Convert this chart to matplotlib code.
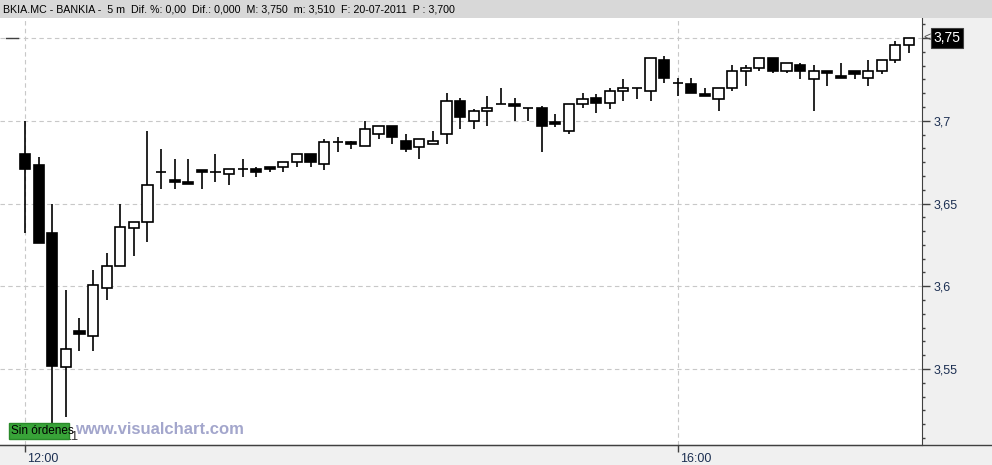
import matplotlib
matplotlib.use("Agg")
import matplotlib.pyplot as plt
import matplotlib.transforms as mtransforms
from matplotlib.patches import Rectangle
from matplotlib.lines import Line2D
from matplotlib.ticker import MultipleLocator

plt.rcParams['font.family'] = ['Liberation Sans', 'DejaVu Sans']

# ── data: BKIA.MC 5 min bars, 20-07-2011 (12:00 .. 17:25) ──
opens  = [3.680, 3.673, 3.632, 3.551, 3.573, 3.570, 3.599, 3.612, 3.635, 3.639,
          3.669, 3.664, 3.663, 3.670, 3.669, 3.668, 3.671, 3.671, 3.672, 3.672,
          3.675, 3.680, 3.674, 3.687, 3.687, 3.685, 3.692, 3.697, 3.688, 3.684,
          3.686, 3.692, 3.712, 3.700, 3.706, 3.710, 3.710, 3.708, 3.708, 3.699,
          3.694, 3.710, 3.714, 3.711, 3.718, 3.720, 3.718, 3.737, 3.723, 3.722,
          3.716, 3.713, 3.720, 3.730, 3.732, 3.738, 3.730, 3.734, 3.725, 3.730,
          3.727, 3.730, 3.726, 3.730, 3.737, 3.746]
highs  = [3.700, 3.678, 3.650, 3.598, 3.581, 3.610, 3.620, 3.650, 3.639, 3.694,
          3.683, 3.677, 3.677, 3.670, 3.680, 3.671, 3.677, 3.672, 3.672, 3.675,
          3.680, 3.680, 3.689, 3.690, 3.688, 3.700, 3.697, 3.697, 3.692, 3.689,
          3.694, 3.717, 3.714, 3.707, 3.715, 3.720, 3.714, 3.708, 3.709, 3.704,
          3.710, 3.717, 3.716, 3.720, 3.725, 3.720, 3.738, 3.739, 3.726, 3.726,
          3.720, 3.720, 3.734, 3.734, 3.738, 3.738, 3.735, 3.735, 3.734, 3.730,
          3.735, 3.730, 3.737, 3.737, 3.748, 3.750]
lows   = [3.632, 3.626, 3.510, 3.521, 3.561, 3.561, 3.592, 3.612, 3.618, 3.627,
          3.659, 3.659, 3.662, 3.659, 3.663, 3.661, 3.666, 3.666, 3.669, 3.669,
          3.672, 3.672, 3.670, 3.681, 3.683, 3.685, 3.689, 3.686, 3.681, 3.677,
          3.686, 3.686, 3.695, 3.695, 3.697, 3.710, 3.700, 3.700, 3.681, 3.696,
          3.692, 3.708, 3.705, 3.707, 3.712, 3.713, 3.712, 3.723, 3.715, 3.717,
          3.715, 3.706, 3.718, 3.721, 3.730, 3.729, 3.729, 3.725, 3.706, 3.721,
          3.726, 3.725, 3.721, 3.728, 3.735, 3.741]
closes = [3.671, 3.626, 3.552, 3.562, 3.571, 3.601, 3.612, 3.636, 3.639, 3.661,
          3.669, 3.663, 3.662, 3.669, 3.669, 3.671, 3.671, 3.669, 3.671, 3.675,
          3.680, 3.675, 3.687, 3.687, 3.686, 3.695, 3.697, 3.690, 3.683, 3.689,
          3.688, 3.712, 3.702, 3.706, 3.708, 3.710, 3.709, 3.708, 3.697, 3.698,
          3.710, 3.713, 3.711, 3.718, 3.720, 3.720, 3.738, 3.726, 3.723, 3.717,
          3.715, 3.720, 3.730, 3.732, 3.738, 3.730, 3.735, 3.730, 3.730, 3.729,
          3.726, 3.728, 3.730, 3.737, 3.746, 3.750]

time_ticks  = [0, 48]
time_labels = ["12:00", "16:00"]
price_ticks  = [3.55, 3.60, 3.65, 3.70, 3.75]
price_labels = ["3,55", "3,6", "3,65", "3,7", ""]
last_price = closes[-1]

header = ("BKIA.MC - BANKIA -  5 m  Dif. %: 0,00  Dif.: 0,000  M: 3,750  "
          "m: 3,510  F: 20-07-2011  P : 3,700")

# ── figure ──
W, H = 992, 465
fig = plt.figure(figsize=(W / 100, H / 100), dpi=100, facecolor="#f0f0f0")
ax = fig.add_axes([0, 20 / H, 922 / W, 427 / H])
ax.set_facecolor("white")

xs = list(range(len(opens)))
ax.vlines(xs, lows, highs, color="black", lw=1.2, zorder=2)
heights = [c - o for o, c in zip(opens, closes)]
fills = ["white" if c >= o else "black" for o, c in zip(opens, closes)]
ax.bar(xs, heights, bottom=opens, width=0.75, color=fills,
       edgecolor="black", linewidth=1.2, zorder=3)

ax.set_xlim(-1.84, 65.96)
ax.set_ylim(3.5041, 3.7621)

# axes / ticks
ax.yaxis.tick_right()
ax.set_yticks(price_ticks)
ax.set_yticklabels(price_labels)
ax.yaxis.set_minor_locator(MultipleLocator(0.05 / 6))
ax.tick_params(axis="y", which="major", length=6, width=1, color="#404040",
               pad=2, labelsize=9, labelcolor="#1c2f52")
ax.tick_params(axis="y", which="minor", length=2.5, width=1, color="#404040")
ax.set_xticks(time_ticks)
ax.set_xticklabels(time_labels)
ax.tick_params(axis="x", length=5, width=1, color="#404040", pad=1,
               labelsize=9, labelcolor="#1c2f52")
offset = mtransforms.ScaledTranslation(0.02, 0, fig.dpi_scale_trans)
for lab in ax.get_xticklabels():
    lab.set_horizontalalignment("left")
    lab.set_transform(lab.get_transform() + offset)

ax.grid(True, which="major", color="#c8c8c8", ls=(0, (4, 3)), lw=0.8, zorder=0)
ax.set_axisbelow(True)
for s in ["top", "left"]:
    ax.spines[s].set_visible(False)
for s in ["right", "bottom"]:
    ax.spines[s].set_color("#404040")
fig.add_artist(Line2D([0, 1], [20 / H, 20 / H], color="#404040", lw=1))

# header bar
fig.add_artist(Rectangle((0, 447 / H), 1, 18 / H, transform=fig.transFigure,
                         facecolor="#d8d8d8", edgecolor="none", zorder=5))
fig.text(3 / W, 1 - 9 / H, header, fontsize=7.7, va="center", ha="left",
         color="black", zorder=6)

# last price marker
ax.plot([-1.4, -0.5], [last_price, last_price], color="#404040", lw=1, zorder=2)
ytr = mtransforms.blended_transform_factory(ax.transAxes, ax.transData)
ax.text(1.0125, last_price, "3,75", transform=ytr, fontsize=10, color="white",
        va="center", ha="left", clip_on=False,
        bbox=dict(boxstyle="square,pad=0.2", fc="black", ec="#404040", lw=0.8))
ax.text(1.002, last_price, "<", transform=ytr, fontsize=9, color="#505050",
        va="center", ha="left", clip_on=False)

# footer bits
fig.text(27 / W, 1 - 437 / H, "20-Jul-11", fontsize=9, color="#303030",
         va="center", ha="left", zorder=4)
fig.add_artist(Rectangle((9 / W, 1 - 439 / H), 60 / W, 16 / H,
                         transform=fig.transFigure, facecolor="#38a338",
                         edgecolor="#2a8a2a", lw=1, zorder=5))
fig.text(11 / W, 1 - 431 / H, "Sin órdenes", fontsize=8.5, color="black",
         va="center", ha="left", zorder=6)
fig.text(75 / W, 1 - 429 / H, "www.visualchart.com", fontsize=12,
         fontweight="bold", color="#a3a6cc", va="center", ha="left", zorder=6)

fig.savefig("out.png", dpi=100, facecolor=fig.get_facecolor())
